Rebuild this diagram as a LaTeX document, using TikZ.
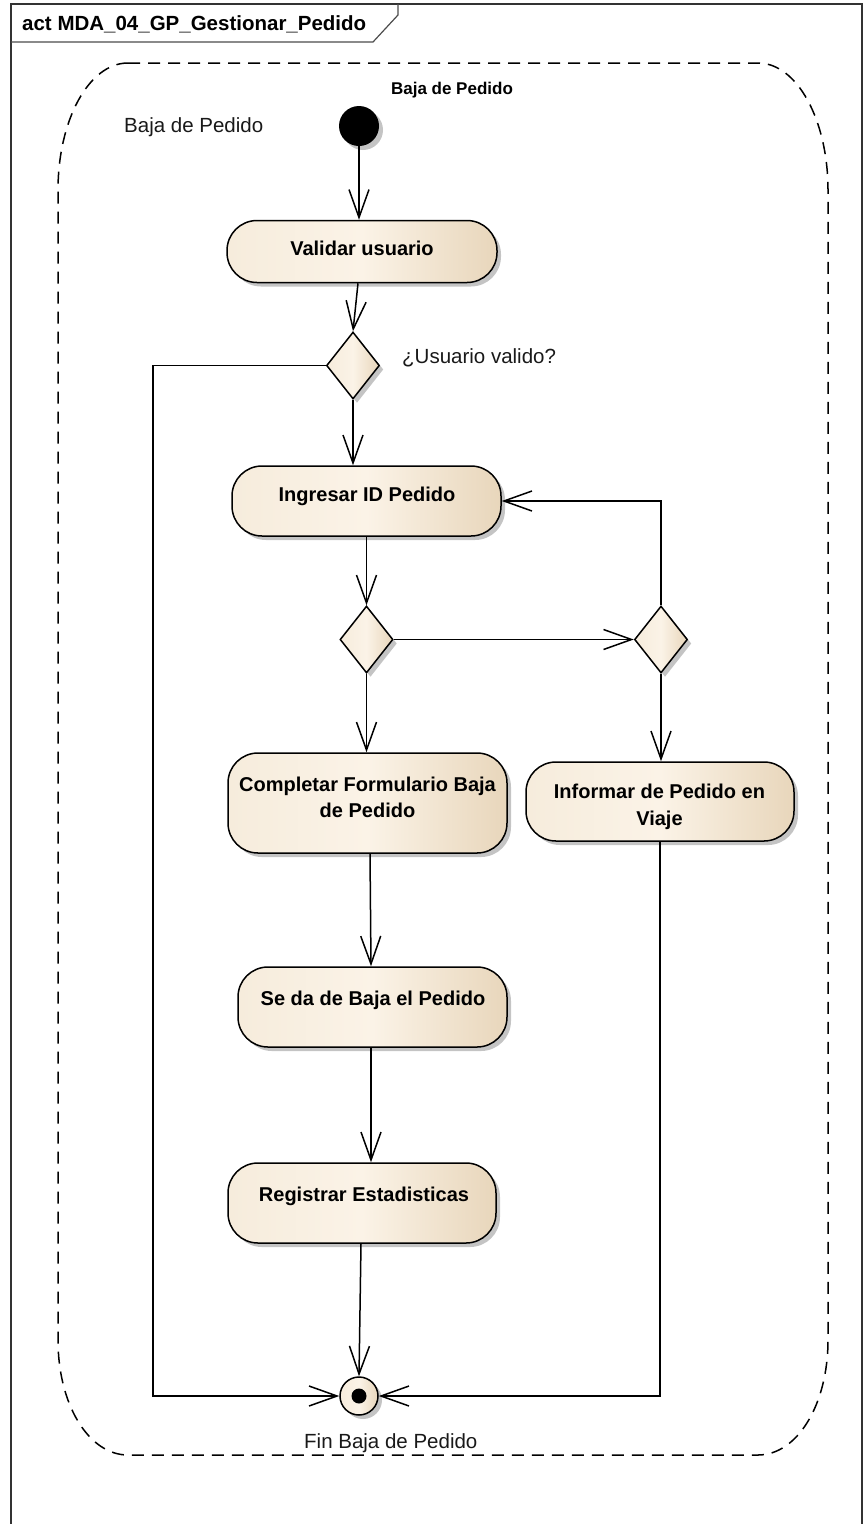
\documentclass[tikz,border=0pt]{standalone}
\usepackage{fontspec}
\setmainfont{Liberation Sans}
\usetikzlibrary{arrows.meta,shapes.geometric,shadows,calc}
\definecolor{fillL}{HTML}{F6ECDC}
\definecolor{fillM}{HTML}{FBF3E7}
\definecolor{fillR}{HTML}{E8D6BB}
\definecolor{shadowc}{HTML}{C4C4C4}
\definecolor{framec}{HTML}{333333}
\begin{document}
\begin{tikzpicture}[x=1pt,y=-1pt,
  shd/.style={drop shadow={shadow xshift=4pt,shadow yshift=-4pt,fill=shadowc,opacity=1}},
  grad/.style={left color=fillL,right color=fillR,middle color=fillM},
  action/.style={draw=black,line width=1.5pt,rounded corners=30pt,grad,shd,inner sep=0pt},
  decision/.style={diamond,draw=black,line width=1.5pt,grad,shd,minimum width=53pt,minimum height=67pt,inner sep=0pt},
  flow/.style={line width=1.5pt,-{Straight Barb[length=28pt,width=20pt]}},
  lbl/.style={font=\fontsize{20}{24}\selectfont\bfseries,anchor=base,inner sep=0pt},
  txt/.style={font=\fontsize{20.5}{24}\selectfont,anchor=base west,inner sep=0pt,text=black!90},
]
\useasboundingbox (0,0) rectangle (865,1524);
% outer frame
\draw[line width=2pt,framec] (11,1530) -- (11,4) -- (862,4) -- (862,1530);
\draw[line width=1.2pt,black!70] (11,42) -- (373,42) -- (398,15) -- (398,4);
\node[font=\fontsize{20.5}{24}\selectfont\bfseries,anchor=base west,inner sep=0pt] (hdr) at (22,30) {act MDA\_04\_GP\_Gestionar\_Pedido};
% dashed region
\draw[line width=1.5pt,dash pattern=on 12pt off 8pt]
  (128,63) -- (758,63)
  .. controls (797,63) and (828,120) .. (828,190)
  -- (828,1340)
  .. controls (828,1405) and (797,1455) .. (758,1455)
  -- (128,1455)
  .. controls (89,1455) and (58,1405) .. (58,1340)
  -- (58,190)
  .. controls (58,120) and (89,63) .. (128,63);
\node[font=\fontsize{17}{20}\selectfont\bfseries,anchor=base,inner sep=0pt] (rtitle) at (452,94) {Baja de Pedido};
\node[txt] (rname) at (124,132) {Baja de Pedido};
% nodes
\node[circle,fill=black,minimum size=40pt,inner sep=0pt,shd] (init) at (359,126) {};
\node[action,minimum width=270pt,minimum height=62pt] (validar) at (362,251.5) {};
\node[lbl] (validarT) at (362,255) {Validar usuario};
\node[decision] (d1) at (353,365.5) {};
\node[txt] (d1T) at (402,363) {¿Usuario valido?};
\node[action,minimum width=269pt,minimum height=70pt] (ingresar) at (366.5,501) {};
\node[lbl] (ingresarT) at (367,501) {Ingresar ID Pedido};
\node[decision] (d2) at (366.5,639.5) {};
\node[decision] (d3) at (661,639.5) {};
\node[action,minimum width=279pt,minimum height=100pt] (comp) at (367.5,803) {};
\node[lbl] (compT1) at (367.5,791) {Completar Formulario Baja};
\node[lbl] (compT2) at (367.5,817) {de Pedido};
\node[action,minimum width=268pt,minimum height=79pt] (inf) at (660,801.5) {};
\node[lbl] (infT1) at (659.5,798) {Informar de Pedido en};
\node[lbl] (infT2) at (659.5,825) {Viaje};
\node[action,minimum width=269pt,minimum height=80pt] (seda) at (372.5,1007) {};
\node[lbl] (sedaT) at (373,1005) {Se da de Baja el Pedido};
\node[action,minimum width=268pt,minimum height=80pt] (reg) at (362,1203) {};
\node[lbl] (regT) at (364,1201) {Registrar Estadisticas};
\node[circle,draw=black,line width=1.5pt,grad,shd,minimum size=38pt,inner sep=0pt] (fin) at (359,1396) {};
\fill[black] (fin.center) circle (7.5pt);
\node[txt] (finT) at (304,1448) {Fin Baja de Pedido};
\coordinate (lc) at (153,1396);
% connectors
\draw[flow] (init) -- (init |- validar.north);
\draw[flow] ([xshift=5pt]d1.north |- validar.south) -- (d1.north);
\draw[flow] (d1.south) -- (d1.south |- ingresar.north);
\draw[flow] (d1.west) -| (lc) -- (fin.west);
\draw[flow] (d2.north |- ingresar.south) -- (d2.north);
\draw[flow] (d2.east) -- (d3.west);
\draw[flow] (d3.north) |- (ingresar.east);
\draw[flow] (d2.south) -- (d2.south |- comp.north);
\draw[flow] (d3.south) -- (d3.south |- inf.north);
\draw[flow] ([xshift=2.5pt]comp.south) -- ([xshift=-1.5pt]seda.north);
\draw[flow] ([xshift=-1.5pt]seda.south) -- ([xshift=-1.5pt]seda.south |- reg.north);
\draw[flow] ([xshift=-1pt]reg.south) -- (fin.north);
\draw[flow] (inf.south) |- (fin.east);
\end{tikzpicture}
\end{document}
